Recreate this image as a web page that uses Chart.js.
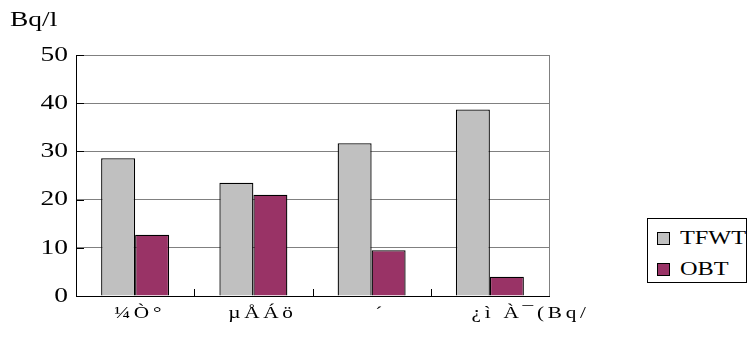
<!DOCTYPE html>
<html>
<head>
<meta charset="utf-8">
<script src="https://cdn.jsdelivr.net/npm/chart.js@4.4.0/dist/chart.umd.min.js"></script>
<style>
    body { margin: 0; background: #fff; }
    #wrap { position: relative; width: 748px; height: 342px; }
    #legend {
        position: absolute; left: 647px; top: 218px; width: 100px; height: 65px;
        border: 1px solid #000; box-sizing: border-box; background: #fff;
        font-family: "Liberation Serif", serif; font-size: 18px; color: #000;
        padding-top: 4px;
    }
    .legend-item { display: flex; align-items: center; height: 31px; padding-left: 9px; }
    .legend-box { width: 11px; height: 11px; border: 1px solid #000; margin-right: 10px; }
    .legend-text { display: inline-block; transform: scaleX(1.35); transform-origin: left center; }
</style>
</head>
<body>
<div id="wrap">
    <canvas id="chart" width="748" height="342"></canvas>
    <div id="legend"></div>
</div>
<script>
const categories = ['¼Ò°', 'µÅÁö', '´', '¿ì À¯(Bq/'];
const tfwtValues = [28.6, 23.5, 31.7, 38.7];
const obtValues = [12.7, 21.0, 9.5, 4.0];
const yTicks = [0, 10, 20, 30, 40, 50];
const seriesNames = ['TFWT', 'OBT'];
const seriesColors = ['#C0C0C0', '#993366'];
const unitLabel = 'Bq/l';

const font = 'Liberation Serif';
// the old chart's labels sit right of centre (hidden glyphs), pad them a bit
const labelPad = [1, 2, 2, 9];

// old chart used wide glyphs: stretch every text run around its anchor
const oldExcelLook = {
    id: 'oldExcelLook',
    beforeInit(chart) {
        const ctx = chart.ctx;
        const fill = ctx.fillText;
        ctx.fillText = function (text, x, y) {
            this.save();
            this.translate(x, y);
            this.scale(1.25, 1);
            fill.call(this, text, 0, 0);
            this.restore();
        };
    },
    afterDatasetsDraw(chart) {
        const { ctx, chartArea, scales } = chart;
        const x = scales.x, y = scales.y;
        ctx.save();
        ctx.lineWidth = 1;
        ctx.strokeStyle = '#808080';
        ctx.beginPath();
        ctx.moveTo(Math.round(chartArea.right) + 0.5, chartArea.top);
        ctx.lineTo(Math.round(chartArea.right) + 0.5, chartArea.bottom);
        ctx.stroke();

        ctx.strokeStyle = '#000';
        ctx.beginPath();
        for (let i = 1; i < categories.length; i++) {
            const px = Math.round((x.getPixelForValue(i - 1) + x.getPixelForValue(i)) / 2) + 0.5;
            ctx.moveTo(px, chartArea.bottom);
            ctx.lineTo(px, chartArea.bottom - 7);
        }
        yTicks.forEach(v => {
            const py = Math.round(y.getPixelForValue(v)) + 0.5;
            ctx.moveTo(chartArea.left, py);
            ctx.lineTo(chartArea.left + 8, py);
        });
        ctx.stroke();
        ctx.restore();
        // x labels are drawn after this (ticks.z = 1)
        ctx.letterSpacing = '3px';
    },
    afterDraw(chart) {
        chart.ctx.letterSpacing = '0px';
    }
};

const legend = document.getElementById('legend');
seriesNames.forEach((name, i) => {
    const item = document.createElement('div');
    item.classList.add('legend-item');
    item.innerHTML = `<span class="legend-box" style="background:${seriesColors[i]}"></span><span class="legend-text">${name}</span>`;
    legend.appendChild(item);
});

new Chart(document.getElementById('chart').getContext('2d'), {
    type: 'bar',
    data: {
        labels: categories,
        datasets: [
            { label: seriesNames[0], data: tfwtValues, backgroundColor: seriesColors[0], borderColor: '#000', borderWidth: 1.3, barPercentage: 1, categoryPercentage: 0.575 },
            { label: seriesNames[1], data: obtValues, backgroundColor: seriesColors[1], borderColor: '#000', borderWidth: 1.3, barPercentage: 1, categoryPercentage: 0.575 }
        ]
    },
    options: {
        responsive: false,
        animation: false,
        layout: { padding: { left: 10, right: 199, top: 0, bottom: 0 } },
        plugins: {
            legend: { display: false },
            tooltip: { enabled: false },
            title: {
                display: true,
                text: unitLabel,
                align: 'start',
                color: '#000',
                font: { family: font, size: 22, weight: 'normal', lineHeight: 1.2 },
                padding: { top: 7, bottom: 21.6 }
            }
        },
        scales: {
            x: {
                grid: { display: false, drawTicks: false },
                border: { color: '#000', width: 1 },
                ticks: {
                    z: 1,
                    color: '#000',
                    font: { family: font, size: 17 },
                    padding: 7,
                    maxRotation: 0,
                    autoSkip: false,
                    callback: (v, i) => ' '.repeat(labelPad[i]) + categories[i]
                },
                afterFit: s => { s.height = 46; }
            },
            y: {
                min: 0,
                max: 50,
                afterBuildTicks: s => { s.ticks = yTicks.map(v => ({ value: v })); },
                grid: { color: '#808080', lineWidth: 1, drawTicks: false },
                border: { color: '#000', width: 1 },
                ticks: { color: '#000', font: { family: font, size: 22 }, padding: 8 },
                afterFit: s => { s.width = 66; }
            }
        }
    },
    plugins: [oldExcelLook]
});
</script>
</body>
</html>
